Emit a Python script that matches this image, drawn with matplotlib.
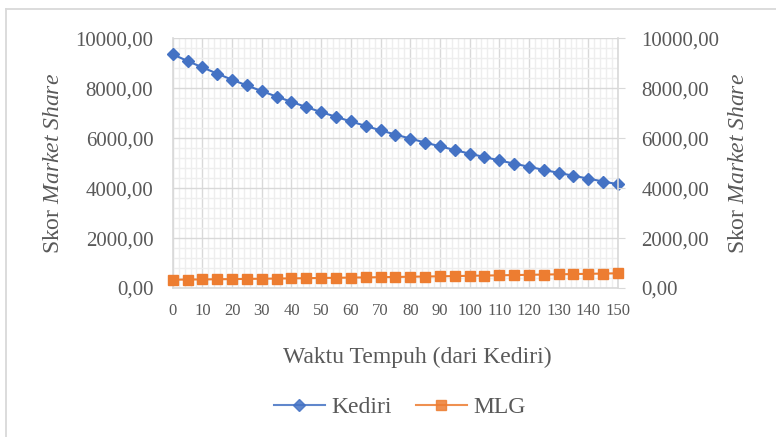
import matplotlib
matplotlib.use("Agg")
import matplotlib.pyplot as plt
from matplotlib.lines import Line2D
from matplotlib.ticker import MultipleLocator, FuncFormatter

plt.rcParams['font.family'] = ['Liberation Serif', 'DejaVu Serif']
plt.rcParams['mathtext.fontset'] = 'custom'
plt.rcParams['mathtext.rm'] = 'Liberation Serif'
plt.rcParams['mathtext.it'] = 'Liberation Serif:italic'

waktu = list(range(0, 151, 5))
kediri = [9360, 9090, 8835, 8585, 8340, 8110, 7885, 7665, 7455, 7245, 7045,
          6855, 6670, 6490, 6315, 6145, 5985, 5825, 5675, 5525, 5380, 5245,
          5110, 4980, 4855, 4730, 4610, 4495, 4380, 4265, 4155]
mlg = [332, 338, 344, 350, 357, 364, 371, 378, 385, 393, 401, 409, 417, 425,
       433, 442, 451, 460, 469, 478, 488, 498, 508, 518, 528, 538, 548, 558,
       568, 578, 589]
x_ticks = list(range(0, 151, 10))
y_ticks = [0, 2000, 4000, 6000, 8000, 10000]

BLUE = '#4472C4'
ORANGE = '#ED7D31'
TXT = '#595959'
GRID = '#d9d9d9'
MINOR = '#eeeeee'

W, H = 776, 437
fig = plt.figure(figsize=(W / 100, H / 100), dpi=100)
ax = fig.add_axes([172.7 / W, 1 - 288 / H, (618 - 172.7) / W, (288 - 38.3) / H])
ax2 = ax.twinx()

fmt = FuncFormatter(lambda v, p: f"{v:.2f}".replace('.', ','))
for a in (ax, ax2):
    a.set_xlim(0, 150)
    a.set_ylim(0, 10000)
    a.set_yticks(y_ticks)
    a.yaxis.set_major_formatter(fmt)
    for s in a.spines.values():
        s.set_visible(False)

ax.set_xticks(x_ticks)
ax.xaxis.set_minor_locator(MultipleLocator(2))
ax.yaxis.set_minor_locator(MultipleLocator(400))
ax.grid(which='minor', color=MINOR, linewidth=1.0)
ax.grid(which='major', color=GRID, linewidth=1.0)
ax.set_axisbelow(True)
for side in ('left', 'bottom'):
    ax.spines[side].set_visible(True)
    ax.spines[side].set_color(GRID)
    ax.spines[side].set_linewidth(1.2)
ax2.spines['right'].set_visible(True)
ax2.spines['right'].set_color(GRID)
ax2.spines['right'].set_linewidth(1.2)

ax.tick_params(axis='y', which='both', length=0, labelsize=15, labelcolor=TXT, pad=14)
ax.tick_params(axis='x', which='both', length=0, labelsize=12, labelcolor=TXT, pad=11)
ax2.tick_params(axis='y', which='major', length=5, color=GRID, labelsize=15, labelcolor=TXT, pad=12)
ax2.tick_params(axis='y', which='minor', length=0)

ax.plot(waktu, kediri, color=BLUE, linewidth=1.5, marker='D', markersize=6.5,
        markeredgecolor=BLUE, markerfacecolor=BLUE, clip_on=False, zorder=3)
ax2.plot(waktu, mlg, color=ORANGE, linewidth=1.5, marker='s', markersize=7,
         markeredgecolor=ORANGE, markerfacecolor=ORANGE, clip_on=False, zorder=3)

ylab = r'Skor $\mathit{Market\ Share}$'
fig.text(54 / W, 1 - 163 / H, ylab, rotation=90, ha='center', va='center',
         fontsize=17, color=TXT)
fig.text(738 / W, 1 - 163 / H, ylab, rotation=90, ha='center', va='center',
         fontsize=17, color=TXT)
fig.text(417 / W, 1 - 357 / H, 'Waktu Tempuh (dari Kediri)', ha='center',
         va='center', fontsize=17, color=TXT)

handles = [
    Line2D([], [], color=BLUE, linewidth=1.5, marker='D', markersize=6.5, alpha=0.85),
    Line2D([], [], color=ORANGE, linewidth=1.5, marker='s', markersize=7, alpha=0.85),
]
leg = fig.legend(handles, ['Kediri', 'MLG'], loc='center', bbox_to_anchor=(400 / W, 1 - 407 / H),
                 ncol=2, frameon=False, fontsize=17, handlelength=2.15,
                 handletextpad=0.3, columnspacing=1.0)
for t in leg.get_texts():
    t.set_color(TXT)

# outer chart border
fig.add_artist(Line2D([5.5 / W, 1], [1 - 8.5 / H, 1 - 8.5 / H], color=GRID, linewidth=1.3,
                      transform=fig.transFigure))
fig.add_artist(Line2D([5.5 / W, 5.5 / W], [0, 1 - 8.5 / H], color=GRID, linewidth=1.3,
                      transform=fig.transFigure))

fig.savefig('out.png', dpi=100)
